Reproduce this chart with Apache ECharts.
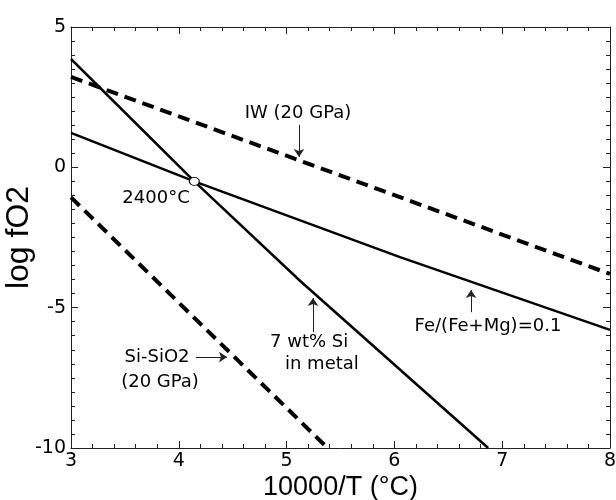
<!DOCTYPE html>
<html>
<head>
<meta charset="utf-8">
<script src="https://cdn.jsdelivr.net/npm/echarts@6/dist/echarts.min.js"></script>
<style>
  html, body { margin: 0; padding: 0; background: #fff; }
  #chart { width: 616px; height: 500px; }
</style>
</head>
<body>
<div id="chart"></div>
<script>
// x = 10000/T, y = log fO2
const iwLine = [[3, 3.22], [8, -3.8]];
const siSio2Line = [[3, -1.07], [5.38, -10]];
const siMetalLine = [[3, 3.86], [4.144, -0.5], [5.124, -4.04], [6.87, -10]];
const feMgLine = [[3, 1.225], [4.144, -0.5], [6.052, -3.2], [8, -5.79]];
const crossPoint = [[4.144, -0.5]];

// text notes: [x, y, text, align]
const notes = [
  [5.106, 1.935, 'IW (20 GPa)', 'center'],
  [3.789, -1.11, '2400°C', 'center'],
  [4.846, -6.23, '7 wt% Si', 'left'],
  [4.985, -7.01, 'in metal', 'left'],
  [3.798, -6.76, 'Si-SiO2', 'center'],
  [3.826, -7.65, '(20 GPa)', 'center'],
  [6.868, -5.66, 'Fe/(Fe+Mg)=0.1', 'center']
];

// arrows: [from, to]
const arrows = [
  [[5.115, 1.51], [5.115, 0.37]],
  [[5.245, -5.87], [5.245, -4.66]],
  [[4.16, -6.76], [4.447, -6.76]],
  [[6.711, -5.16], [6.711, -4.37]]
];

const chart = echarts.init(document.getElementById('chart'));

function axis(extra, split) {
  return Object.assign({
    type: 'value',
    axisLine: { show: true, onZero: false, lineStyle: { color: '#222', width: 1 } },
    axisTick: { show: true, inside: true, length: 7, lineStyle: { color: '#222' } },
    minorTick: { show: true, splitNumber: split, length: 4, lineStyle: { color: '#222' } },
    splitLine: { show: false }
  }, extra);
}

const dashed = { color: '#000', width: 4, type: [12, 7], cap: 'butt' };
const solid = { color: '#000', width: 2.5 };

chart.setOption({
  animation: false,
  grid: { left: 71, top: 27, width: 539, height: 421, containLabel: false, outerBoundsMode: 'none' },
  xAxis: [
    axis({
      min: 3, max: 8, interval: 1, position: 'bottom',
      name: '10000/T (°C)', nameLocation: 'middle', nameGap: 26, nameMoveOverlap: false,
      nameTextStyle: { fontFamily: 'Liberation Sans', fontSize: 27, color: '#000' },
      axisLabel: { fontFamily: 'DejaVu Sans', fontSize: 19, color: '#000', margin: 4 }
    }, 5),
    axis({ min: 3, max: 8, interval: 1, position: 'top', axisLabel: { show: false } }, 5)
  ],
  yAxis: [
    axis({
      min: -10, max: 5, interval: 5, position: 'left',
      name: 'log fO2', nameLocation: 'middle', nameGap: 36, nameRotate: 90, nameMoveOverlap: false,
      nameTextStyle: { fontFamily: 'Liberation Sans', fontSize: 32, color: '#000' },
      axisLabel: { fontFamily: 'DejaVu Sans', fontSize: 19, color: '#000', margin: 5 }
    }, 10),
    axis({ min: -10, max: 5, interval: 5, position: 'right', axisLabel: { show: false } }, 10)
  ],
  series: [
    { type: 'line', name: 'IW', data: iwLine, showSymbol: false, lineStyle: dashed },
    { type: 'line', name: 'Si-SiO2', data: siSio2Line, showSymbol: false, lineStyle: dashed },
    { type: 'line', name: '7 wt% Si', data: siMetalLine, showSymbol: false, lineStyle: solid },
    {
      type: 'line', name: 'Fe/(Fe+Mg)', data: feMgLine, showSymbol: false, lineStyle: solid,
      markLine: {
        silent: true, animation: false,
        symbol: ['none', 'arrow'], symbolSize: 8,
        label: { show: false },
        lineStyle: { color: '#222', width: 1, type: 'solid' },
        data: arrows.map(a => [{ coord: a[0] }, { coord: a[1] }])
      }
    },
    {
      type: 'scatter', data: crossPoint, symbol: 'circle', symbolSize: [10, 8], z: 5,
      itemStyle: { color: '#fff', borderColor: '#000', borderWidth: 1, opacity: 1 }
    },
    {
      type: 'scatter', symbolSize: 0, z: 6, itemStyle: { opacity: 1 },
      data: notes.map(n => ({
        value: [n[0], n[1]],
        label: {
          show: true, position: 'inside', formatter: n[2], align: n[3],
          fontFamily: 'DejaVu Sans', fontSize: 18, color: '#000', opacity: 1
        }
      }))
    }
  ]
});
</script>
</body>
</html>
